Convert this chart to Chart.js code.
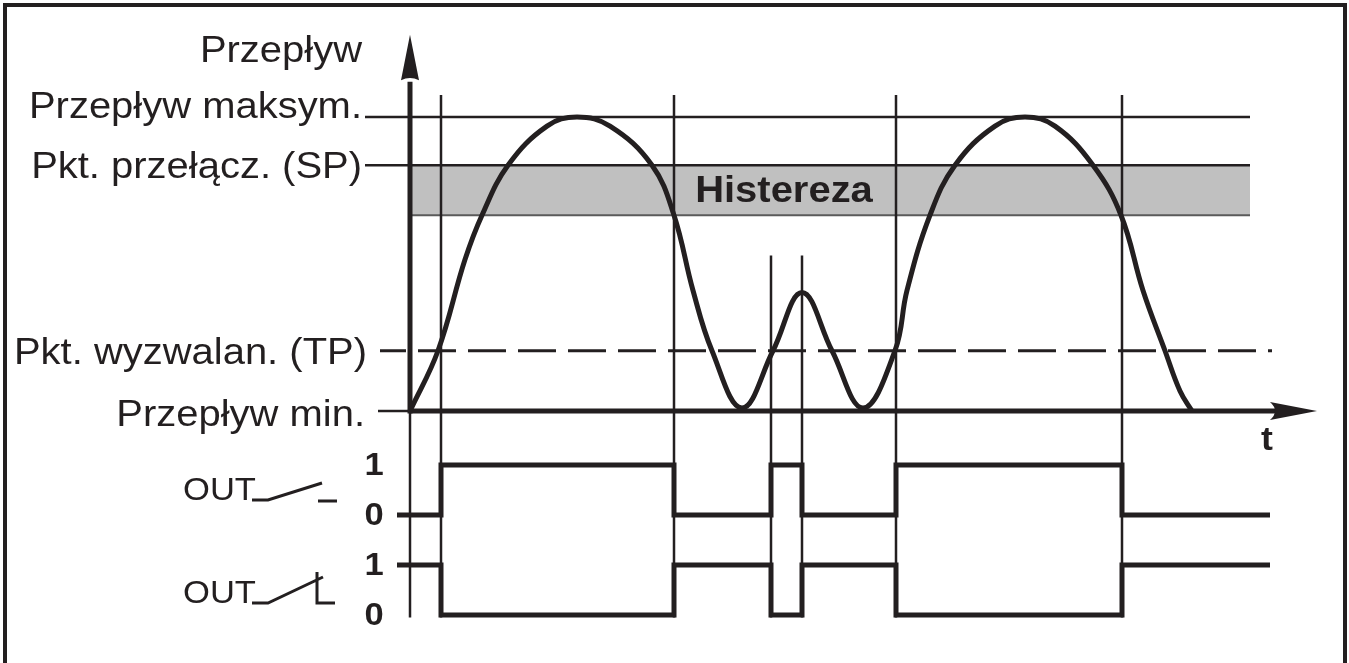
<!DOCTYPE html>
<html>
<head>
<meta charset="utf-8">
<script src="https://cdn.jsdelivr.net/npm/chart.js"></script>
<style>
  body { margin: 0; background: #fff; }
  #wrap { width: 1349px; height: 663px; }
</style>
</head>
<body>
<div id="wrap"><canvas id="flowChart" width="1349" height="663"></canvas></div>
<script>
// flow curve (t = time units, value = % of max flow)
const flowT = [0, 2.8, 5.5, 7.2, 9.8, 13.7, 16.7, 20.0, 24.2, 26.4, 28.3, 30.2, 33.2,
               36.3, 39.2, 42.2, 45.3,
               48.5, 49.7, 52.0, 54.5, 58.5, 61.5, 64.5, 68.3, 71.1, 73.3, 75.5, 77.0, 78.2];
const flowV = [0, 20.5, 51.5, 66.6, 83.6, 96.9, 100, 96.9, 83.6, 66.6, 41, 20.5, 1,
               20.5, 40.3, 20.5, 1,
               20.5, 41, 66.6, 83.6, 96.9, 100, 96.9, 83.6, 66.6, 41, 20.5, 6.8, 0];

// switching outputs
const sigT = [-1.3, 3.1, 26.4, 36.1, 39.2, 48.6, 71.2, 86.0];
const outNO = [0, 1, 0, 1, 0, 1, 0, 0];
const outNC = [1, 0, 1, 0, 1, 0, 1, 1];

// reference levels on the flow axis
const refNames = ['Przepływ maksym.', 'Pkt. przełącz. (SP)', 'Pkt. wyzwalan. (TP)', 'Przepływ min.'];
const refValues = [100, 83.6, 20.5, 0];
const hystLow = 66.6;

// switching moments (vertical guide lines) and their top on the flow axis
const eventT = [3.1, 26.4, 36.1, 39.2, 48.6, 71.2];
const eventTop = [107.5, 107.5, 52.9, 52.9, 107.5, 107.5];

const INK = '#231f20';
const FONT = "'Liberation Sans', Arial, sans-serif";
const SX = 1.08; // text in the original is a bit wide

function txt(ctx, s, x, y, align, font, base) {
  ctx.save();
  ctx.font = font;
  ctx.fillStyle = INK;
  ctx.textAlign = align;
  ctx.textBaseline = base || 'alphabetic';
  ctx.translate(x, y);
  ctx.scale(SX, 1);
  ctx.fillText(s, 0, 0);
  ctx.restore();
}

function line(ctx, x1, y1, x2, y2, w, col) {
  ctx.beginPath();
  ctx.lineWidth = w;
  ctx.strokeStyle = col || INK;
  ctx.moveTo(x1, y1);
  ctx.lineTo(x2, y2);
  ctx.stroke();
}

const diagram = {
  id: 'diagram',
  beforeDatasetsDraw(chart) {
    const ctx = chart.ctx, s = chart.scales;
    const X = v => s.x.getPixelForValue(v), Y = v => s.y.getPixelForValue(v);
    ctx.save();
    // hysteresis band
    ctx.fillStyle = '#c0c0c0';
    ctx.fillRect(X(0), Y(refValues[1]), X(84) - X(0), Y(hystLow) - Y(refValues[1]));
    line(ctx, X(0), Y(hystLow), X(84), Y(hystLow), 2, '#5a5a5a');
    // max and SP lines
    line(ctx, X(-4.5), Y(refValues[0]), X(84), Y(refValues[0]), 2.5);
    line(ctx, X(-4.5), Y(refValues[1]), X(84), Y(refValues[1]), 2.5);
    // TP dashed
    ctx.setLineDash([38, 12]);
    ctx.lineDashOffset = 12;
    line(ctx, X(-3), Y(refValues[2]), X(86.2), Y(refValues[2]), 3);
    ctx.setLineDash([]);
    // min leader
    line(ctx, X(-3.2), Y(0), X(0), Y(0), 2.5);
    // guide lines
    const bottom = s.yOut2.getPixelForValue(-0.05);
    eventT.forEach((t, i) => line(ctx, X(t), Y(eventTop[i]), X(t), bottom, 2.5));
    line(ctx, X(0), Y(0), X(0), bottom, 2.5);
    // band label
    txt(ctx, 'Histereza', 784, Y((refValues[1] + hystLow) / 2) + 12, 'center', 'bold 37px ' + FONT);
    ctx.restore();
  },
  afterDatasetsDraw(chart) {
    const ctx = chart.ctx, s = chart.scales;
    const X = v => s.x.getPixelForValue(v), Y = v => s.y.getPixelForValue(v);
    ctx.save();
    ctx.fillStyle = INK;
    // y axis with arrow
    line(ctx, X(0), Y(0) + 2.5, X(0), Y(112), 5);
    ctx.beginPath();
    ctx.moveTo(X(0), Y(128));
    ctx.lineTo(X(0) - 9, Y(112.5));
    ctx.quadraticCurveTo(X(0), Y(114), X(0) + 9, Y(112.5));
    ctx.closePath();
    ctx.fill();
    // x axis with arrow
    line(ctx, X(0), Y(0), X(86.5), Y(0), 5);
    ctx.beginPath();
    ctx.moveTo(X(90.7), Y(0));
    ctx.lineTo(X(86), Y(0) - 9);
    ctx.quadraticCurveTo(X(87), Y(0), X(86), Y(0) + 9);
    ctx.closePath();
    ctx.fill();
    txt(ctx, 't', X(85.7), Y(0) + 39, 'center', 'bold 33px ' + FONT);

    // left labels
    const f37 = '37px ' + FONT;
    txt(ctx, 'Przepływ', 362, 62, 'right', f37);
    txt(ctx, refNames[0], 362, Y(refValues[0]) + 1, 'right', f37);
    txt(ctx, refNames[1], 362, Y(refValues[1]) + 13, 'right', f37);
    txt(ctx, refNames[2], 367, Y(refValues[2]) + 13, 'right', f37);
    txt(ctx, refNames[3], 365, Y(0) + 15, 'right', f37);

    // output level digits
    const b32 = 'bold 32px ' + FONT;
    [['yOut1', 1], ['yOut1', 0], ['yOut2', 1], ['yOut2', 0]].forEach(([ax, v]) => {
      txt(ctx, String(v), 374, s[ax].getPixelForValue(v) + 10, 'center', b32);
    });

    // OUT labels with contact symbols
    const o1 = s.yOut1.getPixelForValue(0) - 15, o2 = s.yOut2.getPixelForValue(0) - 12;
    txt(ctx, 'OUT', 183, o1, 'left', '32px ' + FONT);
    txt(ctx, 'OUT', 183, o2, 'left', '32px ' + FONT);
    ctx.lineCap = 'butt';
    ctx.beginPath();
    ctx.lineWidth = 3;
    ctx.strokeStyle = INK;
    ctx.moveTo(252, o1); ctx.lineTo(268, o1); ctx.lineTo(322, o1 - 17);
    ctx.moveTo(318, o1 + 1); ctx.lineTo(337, o1 + 1);
    ctx.moveTo(252, o2); ctx.lineTo(268, o2); ctx.lineTo(323, o2 - 26);
    ctx.moveTo(317, o2 - 31); ctx.lineTo(317, o2); ctx.lineTo(335, o2);
    ctx.stroke();

    // frame
    line(ctx, 5, 3, 5, 663, 4);
    line(ctx, 3, 5, 1347, 5, 4);
    line(ctx, 1345, 3, 1345, 663, 4);
    ctx.restore();
  }
};

const ctx = document.getElementById('flowChart').getContext('2d');

const flowChart = new Chart(ctx, {
  type: 'line',
  data: {
    datasets: [
      {
        data: flowT.map((t, i) => ({ x: t, y: flowV[i] })),
        yAxisID: 'y',
        borderColor: INK,
        borderWidth: 5,
        pointRadius: 0,
        tension: 0.4,
        fill: false
      },
      {
        data: sigT.map((t, i) => ({ x: t, y: outNO[i] })),
        yAxisID: 'yOut1',
        borderColor: INK,
        borderWidth: 5,
        pointRadius: 0,
        stepped: true,
        borderJoinStyle: 'miter',
        fill: false
      },
      {
        data: sigT.map((t, i) => ({ x: t, y: outNC[i] })),
        yAxisID: 'yOut2',
        borderColor: INK,
        borderWidth: 5,
        pointRadius: 0,
        stepped: true,
        borderJoinStyle: 'miter',
        fill: false
      }
    ]
  },
  options: {
    responsive: false,
    animation: false,
    layout: { padding: 0 },
    plugins: { legend: { display: false }, tooltip: { enabled: false } },
    scales: {
      x: { type: 'linear', min: -41, max: 93.9, display: false },
      y: { type: 'linear', min: -85.71, max: 139.8, display: false },
      yOut1: { type: 'linear', min: -2.96, max: 10.3, display: false },
      yOut2: { type: 'linear', min: -0.96, max: 12.3, display: false }
    }
  },
  plugins: [diagram]
});
</script>
</body>
</html>
